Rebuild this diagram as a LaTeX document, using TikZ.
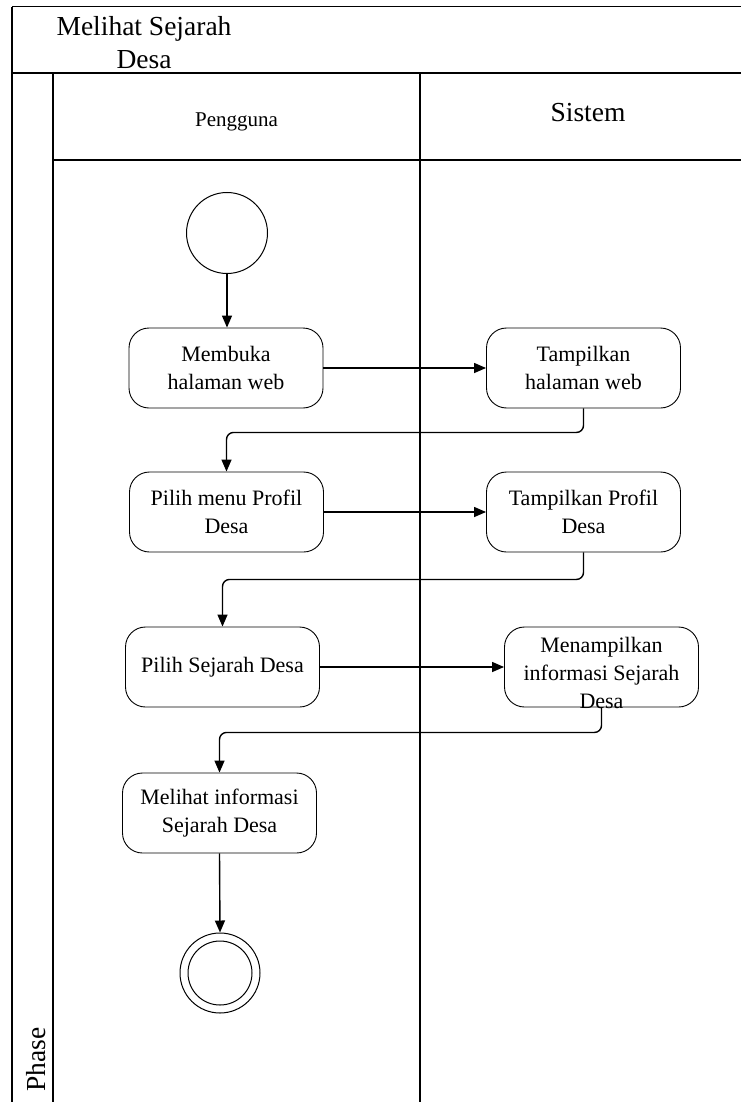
\documentclass[tikz,border=0pt]{standalone}
\usepackage{fontspec}
\setmainfont{Liberation Serif}
\usetikzlibrary{arrows.meta}
\begin{document}
\begin{tikzpicture}[x=1pt,y=-1pt,
  frame/.style={line width=1.5pt},
  actbox/.style={draw, line width=0.9pt, rounded corners=20pt, minimum width=194pt, minimum height=80pt, inner sep=0pt, align=center, font=\fontsize{22}{28}\selectfont},
  boxtext/.style={inner sep=0pt, align=center, font=\fontsize{22}{28}\selectfont},
  conn/.style={line width=1.4pt, -{Triangle[length=12pt,width=10pt]}},
  elbowconn/.style={conn, rounded corners=7pt},
  startnode/.style={draw, circle, line width=1pt, minimum size=81pt, inner sep=0pt},
  endnode/.style={draw, circle, line width=1pt, minimum size=80pt, inner sep=0pt}
]
\useasboundingbox (0,0) rectangle (741,1102);
% frame
\draw[line width=1pt] (12,7) -- (741,7);
\draw[frame] (12,7) -- (12,1102);
\draw[frame] (12,73) -- (741,73);
\draw[frame] (53,73) -- (53,1102);
\draw[frame] (53,160) -- (741,160);
\draw[frame] (420,73) -- (420,1102);
% labels
\node[align=center, inner sep=0pt, font=\fontsize{27.5}{33}\selectfont] (title) at (144,43) {Melihat Sejarah\\Desa};
\node[anchor=base, inner sep=0pt, font=\fontsize{21}{25}\selectfont] (lane1) at (236.5,127) {Pengguna};
\node[anchor=base, inner sep=0pt, font=\fontsize{27.5}{33}\selectfont] (lane2) at (588,122) {Sistem};
\node[rotate=90, anchor=base west, inner sep=0pt, font=\fontsize{27.5}{33}\selectfont] (phase) at (45.5,1092) {Phase};
% nodes
\node[startnode] (start) at (227,233) {};
\node[actbox] (b1) at (226,368) {Membuka\\halaman web};
\node[actbox] (b2) at (583.5,368) {Tampilkan\\halaman web};
\node[actbox] (b3) at (226.5,512) {Pilih menu Profil\\Desa};
\node[actbox] (b4) at (583.5,512) {Tampilkan Profil\\Desa};
\node[actbox] (b5) at (222.5,667) {Pilih Sejarah Desa};
\node[actbox] (b6) at (601.5,667) {};
\node[boxtext] (t6) at (601.5,673) {Menampilkan\\informasi Sejarah\\Desa};
\node[actbox] (b7) at (219.5,813) {Melihat informasi\\Sejarah Desa};
\node[endnode] (end) at (220,973) {};
\draw[line width=1pt] (end.center) circle (32);
% connectors
\draw[conn] (start.south) -- (b1.north -| start.south);
\draw[conn] (b1.east) -- (b2.west);
\draw[elbowconn] (b2.south) -- ++(0,24) -| (b3.north);
\draw[conn] (b3.east) -- (b4.west);
\draw[elbowconn] (b4.south) -- ++(0,27) -| (b5.north);
\draw[conn] (b5.east) -- (b6.west);
\draw[elbowconn] (b6.south) -- ++(0,25) -| (b7.north);
\draw[conn] (b7.south) -- (end.north);
\end{tikzpicture}
\end{document}
